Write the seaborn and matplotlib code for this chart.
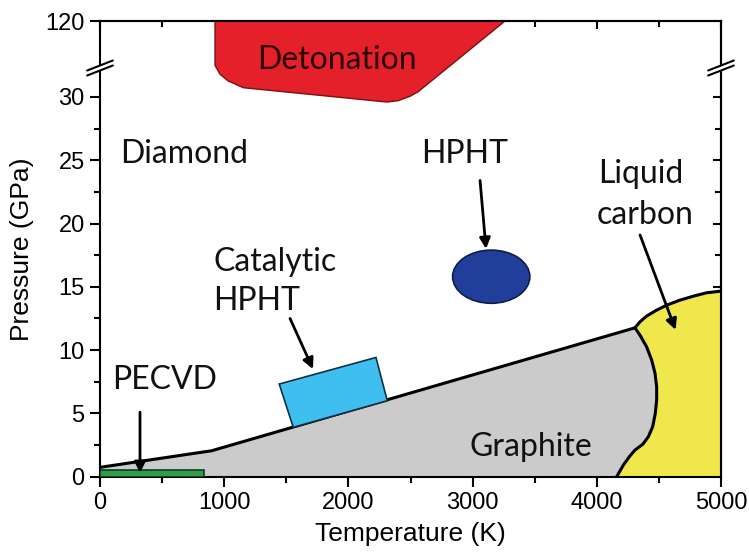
import numpy as np
import pandas as pd
import matplotlib
matplotlib.use("Agg")
import matplotlib.pyplot as plt
import seaborn as sns
from matplotlib.patches import Ellipse, Polygon

# ---------------- data (temperature K, pressure GPa) ----------------
dia_gra_T = [0, 899, 4307]
dia_gra_P = [0.74, 2.05, 11.76]

gra_liq_T = [4307, 4348, 4401, 4442, 4469, 4482, 4482, 4471, 4450, 4415, 4370, 4307, 4262, 4214, 4160]
gra_liq_P = [11.76, 11.18, 10.26, 9.21, 8.16, 7.10, 6.05, 5.00, 3.95, 3.16, 2.56, 2.10, 1.58, 0.92, 0.0]

liq_top_T = [4307, 4348, 4401, 4482, 4562, 4670, 4777, 4884, 5000]
liq_top_P = [11.76, 12.24, 12.69, 13.16, 13.55, 13.95, 14.26, 14.53, 14.66]

deton_T = [926, 926, 966, 1031, 1154, 2308, 2399, 2496, 2560, 3261]
deton_P = [120, 32.5, 31.8, 31.27, 30.73, 29.6, 29.7, 30.05, 30.4, 120]

catal_T = [1556, 1443, 2222, 2313]
catal_P = [3.9, 7.32, 9.42, 6.0]

pecvd_T = [0, 837]
pecvd_P = [0, 0.53]

hpht_center = (3150, 15.8)
hpht_size = (622, 4.2)

x_ticks = [0, 1000, 2000, 3000, 4000, 5000]
y_ticks = [0, 5, 10, 15, 20, 25, 30, 120]

# broken axis mapping
BREAK, TOP_P, TOP_D = 33.0, 120.0, 36.0
def ymap(p):
    p = np.asarray(p, dtype=float)
    return np.where(p <= BREAK, p, BREAK + (p - BREAK) * (TOP_D - BREAK) / (TOP_P - BREAK))

sns.set_theme(style="ticks")
plt.rcParams["font.family"] = ["Liberation Sans", "DejaVu Sans"]
plt.rcParams["text.color"] = "black"
plt.rcParams["axes.labelcolor"] = "black"
plt.rcParams["xtick.color"] = "black"
plt.rcParams["ytick.color"] = "black"
LBL = ["Lato", "DejaVu Sans"]

fig = plt.figure(figsize=(7.49, 5.58), dpi=100)
ax = fig.add_axes([100 / 749, 1 - 476.7 / 558, 621 / 749, 455.7 / 558])
ax.set_xlim(0, 5000)
ax.set_ylim(0, TOP_D)

# graphite region
gT = dia_gra_T + gra_liq_T[1:] + [0]
gP = dia_gra_P + gra_liq_P[1:] + [0]
ax.fill(gT, ymap(gP), color="#cbcbcb", lw=0, zorder=1)

# liquid region
lT = liq_top_T + [5000] + gra_liq_T[::-1]
lP = liq_top_P + [0] + gra_liq_P[::-1]
ax.fill(lT, ymap(lP), color="#efe74c", lw=0, zorder=1)

# boundary lines
for T, P in [(dia_gra_T, dia_gra_P), (gra_liq_T, gra_liq_P), (liq_top_T, liq_top_P)]:
    df = pd.DataFrame({"T": T, "P": ymap(P)})
    sns.lineplot(data=df, x="T", y="P", sort=False, estimator=None, color="black",
                 lw=2.2, ax=ax, zorder=3)

# detonation
ax.fill(deton_T, ymap(deton_P), facecolor="#e4202a", edgecolor="#7a1010", lw=1.0, zorder=2)

# catalytic HPHT
ax.fill(catal_T, ymap(catal_P), facecolor="#3fbff0", edgecolor="#123040", lw=1.2, zorder=4)

# PECVD
ax.fill([pecvd_T[0], pecvd_T[1], pecvd_T[1], pecvd_T[0]],
        [pecvd_P[0], pecvd_P[0], pecvd_P[1], pecvd_P[1]],
        facecolor="#2e9e4a", edgecolor="#123a1a", lw=1.2, zorder=4)

# HPHT ellipse
ax.add_patch(Ellipse(hpht_center, hpht_size[0], hpht_size[1], facecolor="#213f9a",
                     edgecolor="#0e1d4a", lw=1.2, zorder=4))

# labels
fs = 23
tc = "#111111"
ax.text(161, 25.5, "Diamond", family=LBL, fontsize=fs, ha="left", va="center", color=tc, zorder=6)
ax.text(1908, 32.9, "Detonation", family=LBL, fontsize=fs, ha="center", va="center", color="#2a0505", zorder=6)
ax.text(2939, 25.5, "HPHT", family=LBL, fontsize=fs, ha="center", va="center", color=tc, zorder=6)
ax.text(910, 16.97, "Catalytic", family=LBL, fontsize=fs, ha="left", va="center", color=tc, zorder=6)
ax.text(910, 13.9, "HPHT", family=LBL, fontsize=fs, ha="left", va="center", color=tc, zorder=6)
ax.text(4010, 23.95, "Liquid", family=LBL, fontsize=fs, ha="left", va="center", color=tc, zorder=6)
ax.text(3999, 20.66, "carbon", family=LBL, fontsize=fs, ha="left", va="center", color=tc, zorder=6)
ax.text(97, 7.63, "PECVD", family=LBL, fontsize=fs, ha="left", va="center", color=tc, zorder=6)
ax.text(2979, 2.37, "Graphite", family=LBL, fontsize=fs, ha="left", va="center", color=tc, zorder=6)

# arrows
arr = dict(arrowstyle="-|>", color="black", lw=2.0, mutation_scale=16, shrinkA=0, shrinkB=0)
for (t0, p0), (t1, p1) in [((3060, 23.4), (3108, 18.0)),
                           ((4348, 19.1), (4634, 11.6)),
                           ((1530, 12.5), (1715, 8.5)),
                           ((322, 5.1), (322, 0.3))]:
    ax.annotate("", xy=(t1, p1), xytext=(t0, p0), arrowprops=arr, zorder=7)

# ticks
ax.set_xticks(x_ticks)
ax.set_xticks(np.arange(500, 5000, 1000), minor=True)
ax.set_yticks(ymap(y_ticks))
ax.set_yticklabels([str(v) for v in y_ticks])
ax.set_yticks(np.arange(2.5, 30, 5), minor=True)
ax.tick_params(axis="both", which="major", direction="out", length=7, width=1.5,
               labelsize=17, pad=4, colors="black")
ax.tick_params(axis="both", which="minor", direction="out", length=4.5, width=1.5, colors="black")
ax.tick_params(top=False, right=False)

secx = ax.secondary_xaxis("top")
secx.set_xticks(x_ticks)
secx.set_xticks(np.arange(500, 5000, 1000), minor=True)
secx.tick_params(which="major", direction="in", length=6, width=1.5, labeltop=False, colors="black")
secx.tick_params(which="minor", direction="in", length=4, width=1.5, colors="black")
secy = ax.secondary_yaxis("right")
secy.set_yticks(np.arange(0, 31, 5))
secy.set_yticks(np.arange(2.5, 30, 5), minor=True)
secy.tick_params(which="major", direction="in", length=5.5, width=1.5, labelright=False, colors="black")
secy.tick_params(which="minor", direction="in", length=4.5, width=1.5, colors="black")
for s in list(ax.spines.values()) + list(secx.spines.values()) + list(secy.spines.values()):
    s.set_linewidth(1.5)
    s.set_color("black")

ax.set_xlabel("Temperature (K)", fontsize=19, labelpad=6, color="black")
ax.set_ylabel("Pressure (GPa)", fontsize=19, labelpad=8, color="black")

# break marks
yc = (476.7 - 68) / 455.7
dx, dy, g = 0.0207, 0.011, 0.0055
for xc in (0.0, 1.0):
    ax.add_patch(Polygon([(xc - dx, yc - dy - g), (xc + dx, yc + dy - g),
                          (xc + dx, yc + dy + g), (xc - dx, yc - dy + g)],
                         closed=True, transform=ax.transAxes, facecolor="white",
                         edgecolor="none", clip_on=False, zorder=20))
    for s in (-g, g):
        ax.plot([xc - dx, xc + dx], [yc - dy + s, yc + dy + s], transform=ax.transAxes,
                color="black", lw=1.5, clip_on=False, zorder=21)

fig.savefig("out.png", dpi=100)
